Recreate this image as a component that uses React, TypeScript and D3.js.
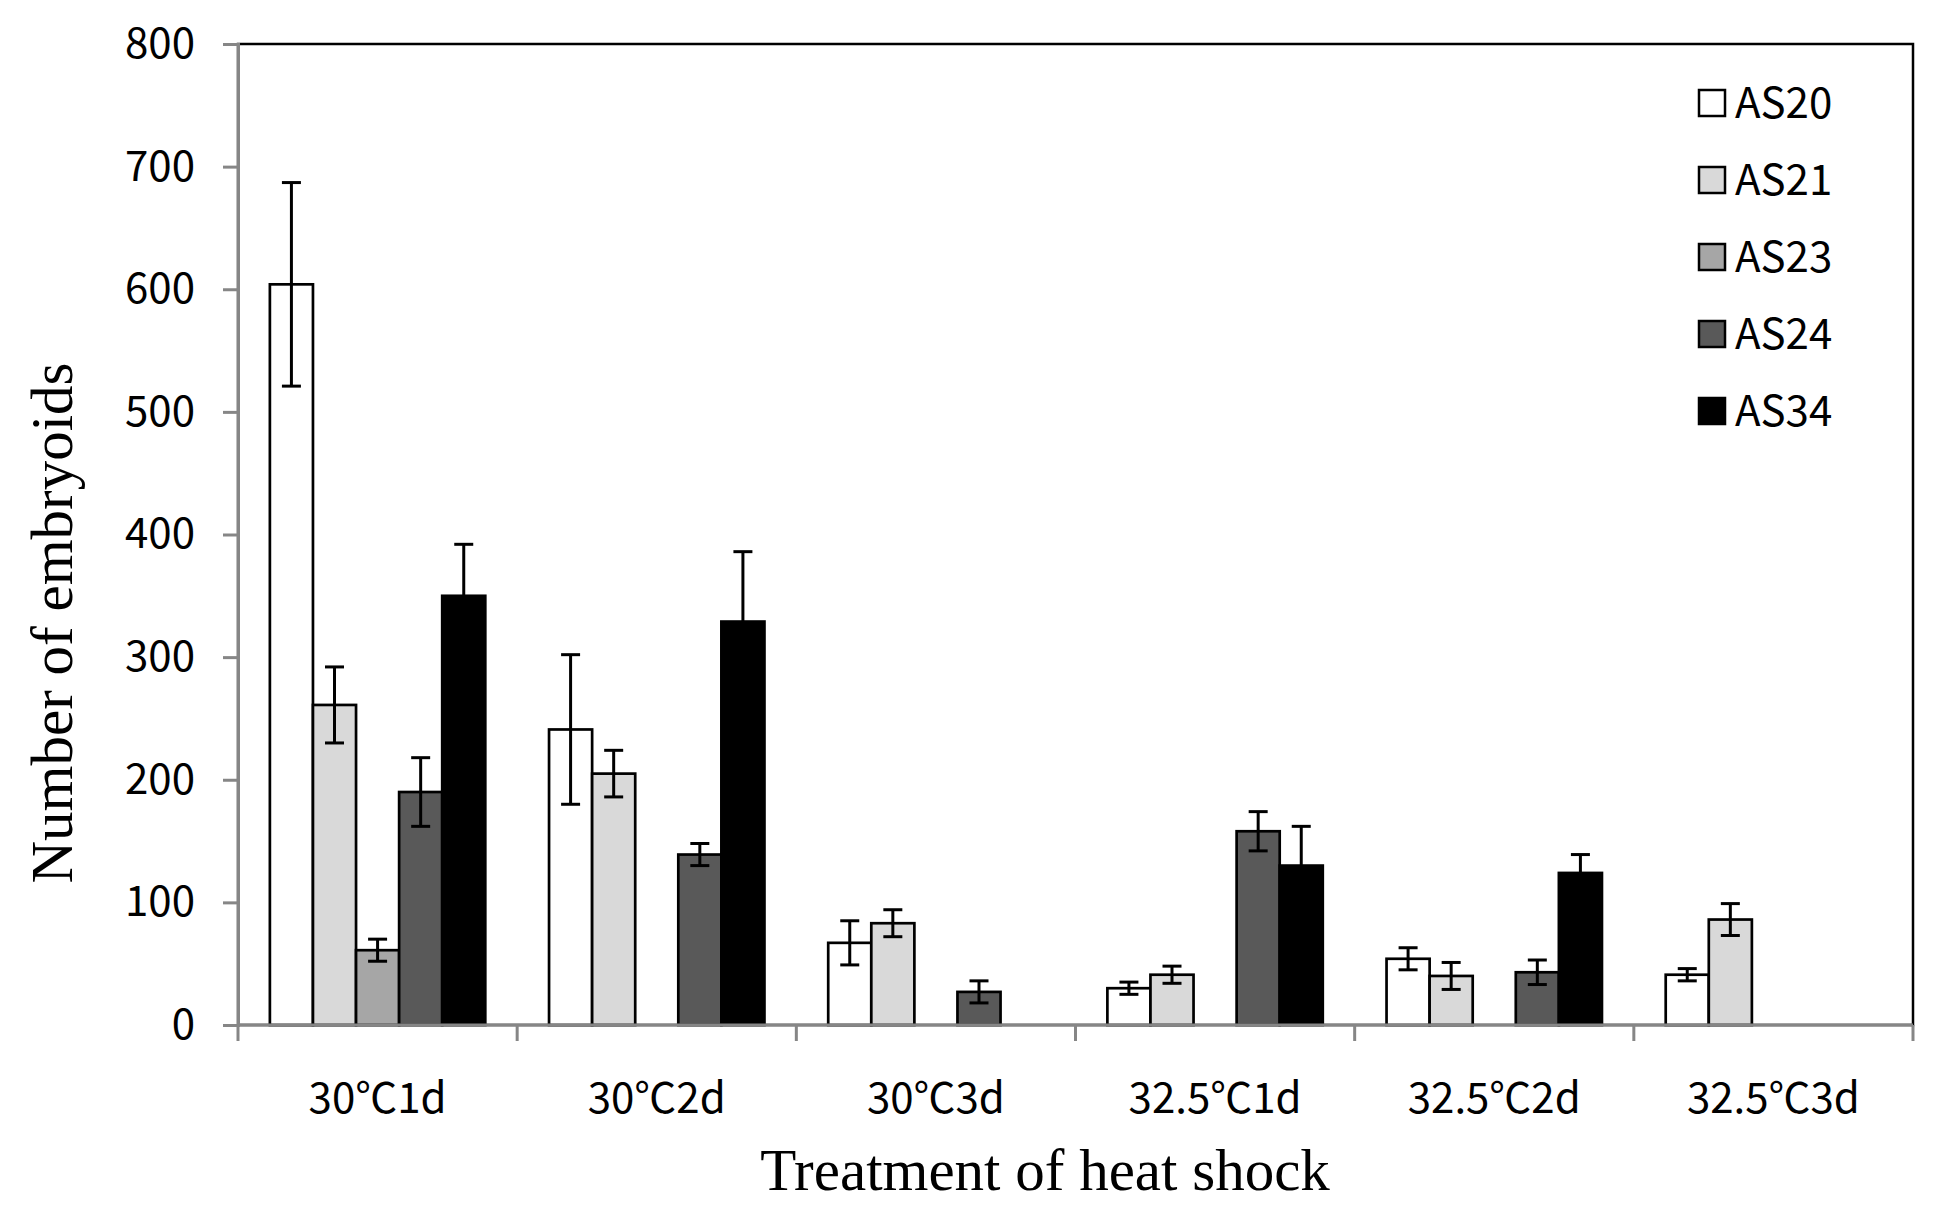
import React, { useEffect, useRef } from "react";
import * as d3 from "d3";

// Heat-shock treatments along the x axis
const treatments = ["30℃1d", "30℃2d", "30℃3d", "32.5℃1d", "32.5℃2d", "32.5℃3d"];
// Genotypes (series)
const genotypes = ["AS20", "AS21", "AS23", "AS24", "AS34"];
const fills = ["#ffffff", "#d9d9d9", "#a6a6a6", "#595959", "#000000"];

// Mean number of embryoids per treatment (null = not recorded)
const as20Mean = [604, 241, 67, 30, 54, 41];
const as21Mean = [261, 205, 83, 41, 40, 86];
const as23Mean = [61, null, null, null, null, null];
const as24Mean = [190, 139, 27, 158, 43, null];
const as34Mean = [350, 329, null, 130, 124, null];

// Standard errors
const as20Err = [83, 61, 18, 5, 9, 5];
const as21Err = [31, 19, 11, 7, 11, 13];
const as23Err = [9, null, null, null, null, null];
const as24Err = [28, 9, 9, 16, 10, null];
const as34Err = [42, 57, null, 32, 15, null];

const yTicks = [0, 100, 200, 300, 400, 500, 600, 700, 800];

const means = [as20Mean, as21Mean, as23Mean, as24Mean, as34Mean];
const errs = [as20Err, as21Err, as23Err, as24Err, as34Err];

export default function App() {
  const ref = useRef<SVGSVGElement | null>(null);

  useEffect(() => {
    const W = 1946, H = 1230;
    const left = 238, right = 1913, top = 44, bottom = 1025;
    const svg = d3.select(ref.current);
    svg.selectAll("*").remove();

    const x0 = d3.scaleBand<string>().domain(treatments).range([left, right]).paddingInner(0).paddingOuter(0);
    const x1 = d3.scaleBand<string>().domain(genotypes).range([0, x0.bandwidth()]).paddingOuter(0.74).paddingInner(0);
    const y = d3.scaleLinear().domain([0, 800]).range([bottom, top]);

    const axisFont = "'Noto Sans CJK KR', 'Noto Sans', sans-serif";
    const titleFont = "'Liberation Serif', 'Times New Roman', serif";

    // plot border (top/right)
    svg.append("rect").attr("x", left).attr("y", top).attr("width", right - left).attr("height", bottom - top)
      .attr("fill", "none").attr("stroke", "#000").attr("stroke-width", 2.5);

    // bars
    const g = svg.append("g");
    genotypes.forEach((gen, si) => {
      treatments.forEach((t, ti) => {
        const v = means[si][ti];
        if (v == null) return;
        const bx = (x0(t) as number) + (x1(gen) as number);
        const bw = x1.bandwidth();
        g.append("rect").attr("x", bx).attr("y", y(v)).attr("width", bw).attr("height", y(0) - y(v))
          .attr("fill", fills[si]).attr("stroke", "#000").attr("stroke-width", 2.7);
      });
    });
    // error bars
    genotypes.forEach((gen, si) => {
      treatments.forEach((t, ti) => {
        const v = means[si][ti];
        const e = errs[si][ti];
        if (v == null || e == null) return;
        const cx = (x0(t) as number) + (x1(gen) as number) + x1.bandwidth() / 2;
        const cap = 9.5;
        const lo = v - e, hi = v + e;
        g.append("line").attr("x1", cx).attr("x2", cx).attr("y1", y(hi)).attr("y2", y(lo))
          .attr("stroke", "#000").attr("stroke-width", 3);
        [hi, lo].forEach((val) => {
          g.append("line").attr("x1", cx - cap).attr("x2", cx + cap).attr("y1", y(val)).attr("y2", y(val))
            .attr("stroke", "#000").attr("stroke-width", 3);
        });
      });
    });

    // y axis
    const yAxis = svg.append("g").attr("transform", `translate(${left},0)`)
      .call(d3.axisLeft(y).tickValues(yTicks).tickSize(15).tickPadding(28).tickFormat(d3.format("d")));
    yAxis.select(".domain").attr("stroke", "#868686").attr("stroke-width", 3);
    yAxis.selectAll(".tick line").attr("stroke", "#868686").attr("stroke-width", 3);
    yAxis.selectAll(".tick text").attr("font-family", axisFont).attr("font-size", 42).attr("fill", "#000");

    // x axis with ticks at category boundaries
    const xAxis = svg.append("g").attr("transform", `translate(0,${bottom})`);
    xAxis.append("line").attr("x1", left).attr("x2", right).attr("y1", 0).attr("y2", 0)
      .attr("stroke", "#868686").attr("stroke-width", 3);
    const boundaries = treatments.map((t) => x0(t) as number).concat([right]);
    xAxis.selectAll("line.tk").data(boundaries).enter().append("line").attr("class", "tk")
      .attr("x1", (d) => d).attr("x2", (d) => d).attr("y1", 0).attr("y2", 16)
      .attr("stroke", "#868686").attr("stroke-width", 3);
    xAxis.selectAll("text").data(treatments).enter().append("text")
      .attr("x", (d) => (x0(d) as number) + x0.bandwidth() / 2).attr("y", 88)
      .attr("text-anchor", "middle").attr("font-family", axisFont).attr("font-size", 42).attr("fill", "#000")
      .text((d) => d);

    // axis titles
    svg.append("text").attr("x", 1045).attr("y", 1190).attr("text-anchor", "middle")
      .attr("font-family", titleFont).attr("font-size", 59)
      .text("Treatment of heat shock");
    svg.append("text").attr("transform", `translate(72,${623}) rotate(-90)`)
      .attr("text-anchor", "middle")
      .attr("font-family", titleFont).attr("font-size", 59)
      .text("Number of embryoids");

    // legend
    const lg = svg.append("g").attr("transform", "translate(1699,103)");
    genotypes.forEach((gen, i) => {
      const row = lg.append("g").attr("transform", `translate(0,${i * 77})`);
      row.append("rect").attr("x", 0).attr("y", -13).attr("width", 26).attr("height", 26)
        .attr("fill", fills[i]).attr("stroke", "#000").attr("stroke-width", 2.5);
      row.append("text").attr("x", 36).attr("y", 0).attr("dy", "0.35em")
        .attr("font-family", axisFont).attr("font-size", 42).attr("fill", "#000").text(gen);
    });

    svg.attr("width", W).attr("height", H);
  }, []);

  return (
    <svg ref={ref} width={1946} height={1230}
      style={{ position: "absolute", left: 0, top: 0, background: "#fff", display: "block" }} />
  );
}
